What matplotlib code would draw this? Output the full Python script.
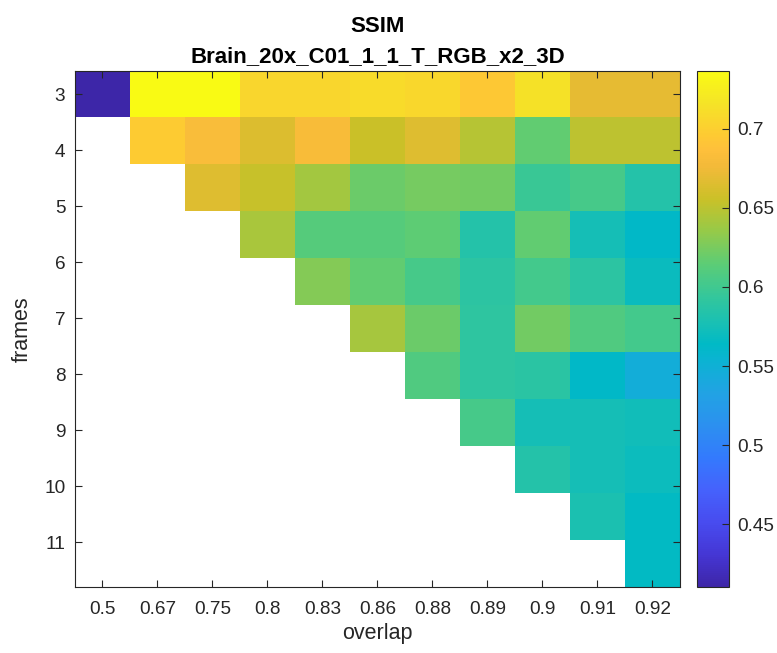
import numpy as np
import matplotlib
matplotlib.use("Agg")
from matplotlib import pyplot as plt
from matplotlib.colors import LinearSegmentedColormap

# overlap values (columns) and frame numbers (y tick labels)
overlap = [0.5, 0.67, 0.75, 0.8, 0.83, 0.86, 0.88, 0.89, 0.9, 0.91, 0.92]
frames = [3, 4, 5, 6, 7, 8, 9, 10, 11]

nan = np.nan
# SSIM values, one row per image row, NaN = no data
row0 = [0.4105, 0.7365, 0.736, 0.705, 0.705, 0.709, 0.707, 0.694, 0.714, 0.670, 0.670]
row1 = [nan, 0.697, 0.682, 0.664, 0.681, 0.655, 0.666, 0.648, 0.616, 0.651, 0.651]
row2 = [nan, nan, 0.666, 0.654, 0.640, 0.620, 0.624, 0.623, 0.597, 0.604, 0.584]
row3 = [nan, nan, nan, 0.643, 0.611, 0.611, 0.615, 0.584, 0.616, 0.575, 0.563]
row4 = [nan, nan, nan, nan, 0.629, 0.616, 0.604, 0.590, 0.602, 0.590, 0.569]
row5 = [nan, nan, nan, nan, nan, 0.641, 0.620, 0.591, 0.622, 0.609, 0.602]
row6 = [nan, nan, nan, nan, nan, nan, 0.609, 0.591, 0.588, 0.563, 0.546]
row7 = [nan, nan, nan, nan, nan, nan, nan, 0.604, 0.575, 0.575, 0.573]
row8 = [nan, nan, nan, nan, nan, nan, nan, nan, 0.584, 0.575, 0.570]
row9 = [nan, nan, nan, nan, nan, nan, nan, nan, nan, 0.579, 0.565]
row10 = [nan, nan, nan, nan, nan, nan, nan, nan, nan, nan, 0.565]

cbar_ticks = [0.45, 0.5, 0.55, 0.6, 0.65, 0.7]

ssim = np.array([row0, row1, row2, row3, row4, row5, row6,
                 row7, row8, row9, row10])

# parula-like colormap (MATLAB default)
parula_pts = [
    (0/255, (0.2422, 0.1504, 0.6603)),
    (16/255, (0.2704, 0.2138, 0.8346)),
    (32/255, (0.2813, 0.2985, 0.9397)),
    (48/255, (0.2710, 0.3860, 0.9898)),
    (64/255, (0.2006, 0.4803, 0.9906)),
    (80/255, (0.1716, 0.5655, 0.9393)),
    (96/255, (0.1288, 0.6408, 0.8910)),
    (112/255, (0.0433, 0.7039, 0.8242)),
    (120/255, (0.0018, 0.7275, 0.7752)),
    (128/255, (0.0770, 0.7468, 0.7224)),
    (144/255, (0.2061, 0.7808, 0.6065)),
    (160/255, (0.3671, 0.8021, 0.4563)),
    (176/255, (0.5886, 0.7913, 0.2833)),
    (192/255, (0.7945, 0.7554, 0.1570)),
    (208/255, (0.9523, 0.7284, 0.2237)),
    (216/255, (0.9971, 0.7513, 0.2309)),
    (224/255, (0.9938, 0.7974, 0.1974)),
    (240/255, (0.9601, 0.8963, 0.1507)),
    (255/255, (0.9769, 0.9839, 0.0805)),
]
parula = LinearSegmentedColormap.from_list("parula", parula_pts, N=256)
parula.set_bad("white")

plt.rcParams["font.family"] = ["Liberation Sans", "DejaVu Sans"]
txt_c = "#262626"
tick_fs = 13.7
label_fs = 15.5
title_fs = 16

fig = plt.figure(figsize=(7.77, 6.53), dpi=100)
ax = fig.add_axes([0.0965, 0.101, 0.7786, 0.7907])
cax = fig.add_axes([0.8975, 0.101, 0.0412, 0.7907])

# the image rows do not line up with the frame ticks (as in the original)
ytop, ybot = 2.58, 11.8
vmin, vmax = np.nanmin(ssim), np.nanmax(ssim)
im = ax.imshow(np.ma.masked_invalid(ssim), cmap=parula, vmin=vmin, vmax=vmax,
               aspect="auto", interpolation="nearest",
               extent=(-0.5, len(overlap) - 0.5, ybot, ytop))
ax.set_xlim(-0.5, len(overlap) - 0.5)
ax.set_ylim(ybot, ytop)

ax.set_xticks(range(len(overlap)))
ax.set_xticklabels(["%g" % o for o in overlap])
ax.set_yticks(frames)
ax.set_yticklabels([str(f) for f in frames])
ax.tick_params(direction="in", length=5, width=0.8, colors=txt_c,
               labelsize=tick_fs, top=True, right=True)
ax.tick_params(axis="x", pad=10)
ax.tick_params(axis="y", pad=7)
for s in ax.spines.values():
    s.set_color(txt_c)
    s.set_linewidth(0.8)

ax.set_xlabel("overlap", fontsize=label_fs, color=txt_c, labelpad=4)
ax.set_ylabel("frames", fontsize=label_fs, color=txt_c, labelpad=8)

# two-line bold title
xc = 0.0965 + 0.7786 / 2
fig.text(xc, 1 - 32 / 653, "SSIM", ha="center", va="baseline",
         fontsize=title_fs, fontweight="bold", color="black")
fig.text(xc, 1 - 62 / 653, "Brain_20x_C01_1_1_T_RGB_x2_3D", ha="center",
         va="baseline", fontsize=title_fs, fontweight="bold", color="black")

cb = fig.colorbar(im, cax=cax)
cb.set_ticks(cbar_ticks)
cb.set_ticklabels(["%g" % t for t in cbar_ticks])
cb.ax.tick_params(direction="in", length=5, width=0.8, colors=txt_c,
                  labelsize=tick_fs, pad=6)
cb.outline.set_edgecolor(txt_c)
cb.outline.set_linewidth(0.8)

fig.savefig("out.png", dpi=100)
